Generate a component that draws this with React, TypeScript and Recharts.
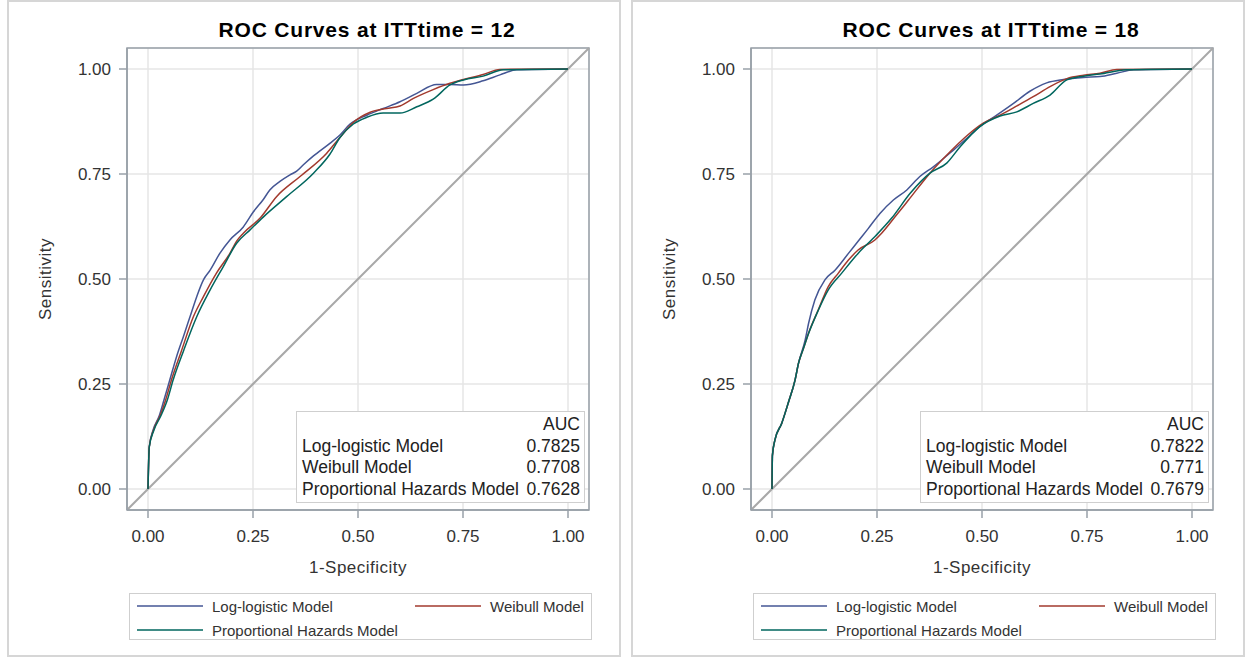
import {
  LineChart,
  Line,
  XAxis,
  YAxis,
  CartesianGrid,
  ReferenceLine,
  ReferenceArea,
  Legend,
} from 'recharts';

type Pt = { x: number; y: number };

const FONT = '"Liberation Sans", Arial, Helvetica, sans-serif';

const axisTicks = [0, 0.25, 0.5, 0.75, 1];
const modelNames = ['Log-logistic Model', 'Weibull Model', 'Proportional Hazards Model'];
const modelColors = ['#445694', '#a23a2e', '#01665e'];

// ROC points (1-specificity, sensitivity) at ITTtime = 12
const logLogistic12: Pt[] = [
  { x: 0, y: 0 }, { x: 0.003, y: 0.1 }, { x: 0.012, y: 0.14 }, { x: 0.027, y: 0.175 },
  { x: 0.038, y: 0.212 }, { x: 0.052, y: 0.26 }, { x: 0.068, y: 0.315 }, { x: 0.085, y: 0.365 },
  { x: 0.1, y: 0.41 }, { x: 0.116, y: 0.458 }, { x: 0.132, y: 0.498 }, { x: 0.148, y: 0.521 },
  { x: 0.171, y: 0.561 }, { x: 0.195, y: 0.593 }, { x: 0.227, y: 0.624 }, { x: 0.251, y: 0.66 },
  { x: 0.275, y: 0.69 }, { x: 0.29, y: 0.712 }, { x: 0.315, y: 0.733 }, { x: 0.338, y: 0.748 },
  { x: 0.354, y: 0.757 }, { x: 0.37, y: 0.772 }, { x: 0.394, y: 0.793 }, { x: 0.433, y: 0.823 },
  { x: 0.457, y: 0.843 }, { x: 0.481, y: 0.869 }, { x: 0.521, y: 0.89 }, { x: 0.56, y: 0.906 },
  { x: 0.6, y: 0.922 }, { x: 0.64, y: 0.942 }, { x: 0.687, y: 0.963 }, { x: 0.719, y: 0.963 },
  { x: 0.751, y: 0.962 }, { x: 0.798, y: 0.972 }, { x: 0.838, y: 0.986 }, { x: 0.878, y: 0.998 },
  { x: 1, y: 1 },
];

const weibull12: Pt[] = [
  { x: 0, y: 0 }, { x: 0.003, y: 0.1 }, { x: 0.013, y: 0.14 }, { x: 0.029, y: 0.175 },
  { x: 0.042, y: 0.212 }, { x: 0.056, y: 0.26 }, { x: 0.08, y: 0.33 }, { x: 0.108, y: 0.41 },
  { x: 0.132, y: 0.458 }, { x: 0.163, y: 0.514 }, { x: 0.195, y: 0.561 }, { x: 0.211, y: 0.59 },
  { x: 0.227, y: 0.609 }, { x: 0.267, y: 0.645 }, { x: 0.306, y: 0.696 }, { x: 0.362, y: 0.744 },
  { x: 0.425, y: 0.799 }, { x: 0.457, y: 0.837 }, { x: 0.489, y: 0.873 }, { x: 0.529, y: 0.897 },
  { x: 0.568, y: 0.906 }, { x: 0.6, y: 0.912 }, { x: 0.632, y: 0.93 }, { x: 0.679, y: 0.951 },
  { x: 0.719, y: 0.966 }, { x: 0.751, y: 0.975 }, { x: 0.798, y: 0.987 }, { x: 0.838, y: 0.999 },
  { x: 1, y: 1 },
];

const propHazards12: Pt[] = [
  { x: 0, y: 0 }, { x: 0.003, y: 0.1 }, { x: 0.014, y: 0.14 }, { x: 0.031, y: 0.175 },
  { x: 0.046, y: 0.212 }, { x: 0.06, y: 0.26 }, { x: 0.085, y: 0.33 }, { x: 0.116, y: 0.41 },
  { x: 0.148, y: 0.474 }, { x: 0.179, y: 0.529 }, { x: 0.211, y: 0.585 }, { x: 0.243, y: 0.617 },
  { x: 0.275, y: 0.648 }, { x: 0.33, y: 0.696 }, { x: 0.394, y: 0.752 }, { x: 0.433, y: 0.797 },
  { x: 0.457, y: 0.837 }, { x: 0.489, y: 0.869 }, { x: 0.521, y: 0.885 }, { x: 0.56, y: 0.895 },
  { x: 0.6, y: 0.895 }, { x: 0.64, y: 0.91 }, { x: 0.679, y: 0.928 }, { x: 0.719, y: 0.962 },
  { x: 0.751, y: 0.974 }, { x: 0.798, y: 0.983 }, { x: 0.846, y: 0.998 }, { x: 1, y: 1 },
];

// ROC points at ITTtime = 18
const logLogistic18: Pt[] = [
  { x: 0, y: 0 }, { x: 0.001, y: 0.08 }, { x: 0.007, y: 0.117 }, { x: 0.023, y: 0.156 },
  { x: 0.039, y: 0.206 }, { x: 0.055, y: 0.26 }, { x: 0.063, y: 0.299 }, { x: 0.079, y: 0.355 },
  { x: 0.087, y: 0.394 }, { x: 0.102, y: 0.45 }, { x: 0.126, y: 0.498 }, { x: 0.15, y: 0.521 },
  { x: 0.182, y: 0.561 }, { x: 0.205, y: 0.59 }, { x: 0.229, y: 0.62 }, { x: 0.257, y: 0.656 },
  { x: 0.289, y: 0.688 }, { x: 0.321, y: 0.712 }, { x: 0.352, y: 0.744 }, { x: 0.384, y: 0.767 },
  { x: 0.432, y: 0.807 }, { x: 0.464, y: 0.835 }, { x: 0.495, y: 0.863 }, { x: 0.535, y: 0.89 },
  { x: 0.575, y: 0.918 }, { x: 0.614, y: 0.947 }, { x: 0.654, y: 0.967 }, { x: 0.694, y: 0.975 },
  { x: 0.742, y: 0.98 }, { x: 0.781, y: 0.982 }, { x: 0.821, y: 0.99 }, { x: 0.861, y: 0.998 },
  { x: 1, y: 1 },
];

const weibull18: Pt[] = [
  { x: 0, y: 0 }, { x: 0.001, y: 0.08 }, { x: 0.007, y: 0.117 }, { x: 0.023, y: 0.156 },
  { x: 0.039, y: 0.206 }, { x: 0.055, y: 0.26 }, { x: 0.063, y: 0.299 }, { x: 0.075, y: 0.335 },
  { x: 0.087, y: 0.371 }, { x: 0.11, y: 0.426 }, { x: 0.134, y: 0.482 }, { x: 0.158, y: 0.514 },
  { x: 0.182, y: 0.545 }, { x: 0.205, y: 0.569 }, { x: 0.245, y: 0.593 }, { x: 0.261, y: 0.609 },
  { x: 0.293, y: 0.648 }, { x: 0.325, y: 0.688 }, { x: 0.376, y: 0.752 }, { x: 0.424, y: 0.803 },
  { x: 0.464, y: 0.841 }, { x: 0.503, y: 0.871 }, { x: 0.543, y: 0.89 }, { x: 0.583, y: 0.912 },
  { x: 0.622, y: 0.934 }, { x: 0.662, y: 0.958 }, { x: 0.702, y: 0.977 }, { x: 0.742, y: 0.985 },
  { x: 0.781, y: 0.99 }, { x: 0.821, y: 0.999 }, { x: 1, y: 1 },
];

const propHazards18: Pt[] = [
  { x: 0, y: 0 }, { x: 0.001, y: 0.08 }, { x: 0.007, y: 0.117 }, { x: 0.023, y: 0.156 },
  { x: 0.039, y: 0.206 }, { x: 0.055, y: 0.26 }, { x: 0.063, y: 0.299 }, { x: 0.075, y: 0.335 },
  { x: 0.087, y: 0.37 }, { x: 0.11, y: 0.425 }, { x: 0.134, y: 0.474 }, { x: 0.166, y: 0.514 },
  { x: 0.205, y: 0.561 }, { x: 0.247, y: 0.603 }, { x: 0.285, y: 0.645 }, { x: 0.329, y: 0.704 },
  { x: 0.376, y: 0.752 }, { x: 0.416, y: 0.776 }, { x: 0.448, y: 0.815 }, { x: 0.495, y: 0.863 },
  { x: 0.543, y: 0.888 }, { x: 0.583, y: 0.898 }, { x: 0.622, y: 0.918 }, { x: 0.662, y: 0.938 },
  { x: 0.702, y: 0.974 }, { x: 0.742, y: 0.983 }, { x: 0.781, y: 0.988 }, { x: 0.844, y: 0.998 },
  { x: 1, y: 1 },
];

const auc12 = ['0.7825', '0.7708', '0.7628'];
const auc18 = ['0.7822', '0.771', '0.7679'];

const FRAME = '#98a0a8';
const TEXT = '#333';

function SensitivityLabel(props: any) {
  const { x, y, height } = props.viewBox;
  const cx = x + 45;
  const cy = y + height / 2;
  return (
    <text
      x={cx}
      y={cy}
      transform={`rotate(-90 ${cx} ${cy})`}
      textAnchor="middle"
      dominantBaseline="central"
      fontSize={17}
      letterSpacing={0.5}
      fontFamily={FONT}
      fill={TEXT}
    >
      Sensitivity
    </text>
  );
}

function SpecificityLabel(props: any) {
  const { x, y, width } = props.viewBox;
  return (
    <text
      x={x + width / 2}
      y={y + 57}
      textAnchor="middle"
      dominantBaseline="central"
      fontSize={17}
      letterSpacing={0.5}
      fontFamily={FONT}
      fill={TEXT}
    >
      1-Specificity
    </text>
  );
}

function ModelLegend() {
  return (
    <div
      style={{
        position: 'relative',
        width: '100%',
        height: '100%',
        boxSizing: 'border-box',
        border: '1px solid #cfcfcf',
        background: '#fff',
        fontFamily: FONT,
        fontSize: 15,
        color: TEXT,
      }}
    >
      {modelNames.map((name, i) => {
        const col = i % 2;
        const row = Math.floor(i / 2);
        return (
          <div
            key={name}
            style={{
              position: 'absolute',
              left: col === 0 ? 7 : 285,
              top: row === 0 ? 2 : 26,
              height: 20,
              display: 'flex',
              alignItems: 'center',
              whiteSpace: 'nowrap',
            }}
          >
            <svg width={66} height={4} style={{ marginRight: 9 }}>
              <line x1={0} y1={2} x2={66} y2={2} stroke={modelColors[i]} strokeWidth={1.5} />
            </svg>
            <span>{name}</span>
          </div>
        );
      })}
    </div>
  );
}

function RocPanel({
  left,
  title,
  curves,
  auc,
}: {
  left: number;
  title: string;
  curves: Pt[][];
  auc: string[];
}) {
  return (
    <div style={{ position: 'absolute', left, top: 0, width: 620, height: 659 }}>
      <div
        style={{
          position: 'absolute',
          left: 7,
          top: 0,
          width: 614,
          height: 657,
          boxSizing: 'border-box',
          border: '2px solid #d6d6d6',
        }}
      />
      <LineChart
        width={620}
        height={659}
        margin={{ top: 48, right: 31, bottom: 83, left: 0 }}
        style={{ position: 'absolute', left: 0, top: 0 }}
      >
        <CartesianGrid stroke="#e6e6e6" strokeWidth={1.5} />
        <XAxis
          type="number"
          dataKey="x"
          domain={[-0.05, 1.05]}
          ticks={axisTicks}
          tickFormatter={(v: number) => v.toFixed(2)}
          height={66}
          tickSize={8}
          tickMargin={12}
          axisLine={{ stroke: FRAME, strokeWidth: 1.5 }}
          tickLine={{ stroke: FRAME, strokeWidth: 1.5 }}
          tick={{ fontSize: 17, fill: TEXT, fontFamily: FONT }}
          label={SpecificityLabel}
        />
        <YAxis
          type="number"
          domain={[-0.05, 1.05]}
          ticks={axisTicks}
          tickFormatter={(v: number) => v.toFixed(2)}
          width={127}
          tickSize={8}
          tickMargin={8}
          axisLine={{ stroke: FRAME, strokeWidth: 1.5 }}
          tickLine={{ stroke: FRAME, strokeWidth: 1.5 }}
          tick={{ fontSize: 17, fill: TEXT, fontFamily: FONT }}
          label={SensitivityLabel}
        />
        <ReferenceArea
          x1={-0.05}
          x2={1.05}
          y1={-0.05}
          y2={1.05}
          fill="none"
          fillOpacity={0}
          stroke={FRAME}
          strokeWidth={1.5}
          ifOverflow="visible"
        />
        <ReferenceLine
          segment={[
            { x: -0.05, y: -0.05 },
            { x: 1.05, y: 1.05 },
          ]}
          stroke="#a8a8a8"
          strokeWidth={2}
          ifOverflow="visible"
        />
        {curves.map((pts, i) => (
          <Line
            key={modelNames[i]}
            data={pts}
            dataKey="y"
            name={modelNames[i]}
            type="monotone"
            stroke={modelColors[i]}
            strokeWidth={1.5}
            dot={false}
            activeDot={false}
            isAnimationActive={false}
          />
        ))}
        <Legend
          layout="horizontal"
          verticalAlign="middle"
          content={() => <ModelLegend />}
          wrapperStyle={{ left: 129, top: 593, width: 463, height: 47 }}
        />
      </LineChart>
      <div
        style={{
          position: 'absolute',
          left: 167,
          top: 18,
          width: 400,
          textAlign: 'center',
          fontFamily: FONT,
          fontWeight: 'bold',
          fontSize: 21,
          letterSpacing: 0.8,
          lineHeight: '24px',
          color: '#000',
        }}
      >
        {title}
      </div>
      <div
        style={{
          position: 'absolute',
          left: 296,
          top: 411,
          width: 289,
          height: 92,
          boxSizing: 'border-box',
          border: '1px solid #cfcfcf',
          background: '#fff',
          padding: '2px 4px 0 5px',
          fontFamily: FONT,
          fontSize: 17.5,
          lineHeight: '21.5px',
          color: '#222',
        }}
      >
        <div style={{ textAlign: 'right' }}>AUC</div>
        {modelNames.map((name, i) => (
          <div key={name} style={{ display: 'flex', justifyContent: 'space-between' }}>
            <span>{name}</span>
            <span>{auc[i]}</span>
          </div>
        ))}
      </div>
    </div>
  );
}

export default function App() {
  return (
    <div
      style={{
        position: 'absolute',
        left: 0,
        top: 0,
        width: 1245,
        height: 659,
        background: '#fff',
        overflow: 'hidden',
      }}
    >
      <RocPanel
        left={0}
        title="ROC Curves at ITTtime = 12"
        curves={[logLogistic12, weibull12, propHazards12]}
        auc={auc12}
      />
      <RocPanel
        left={624}
        title="ROC Curves at ITTtime = 18"
        curves={[logLogistic18, weibull18, propHazards18]}
        auc={auc18}
      />
    </div>
  );
}
